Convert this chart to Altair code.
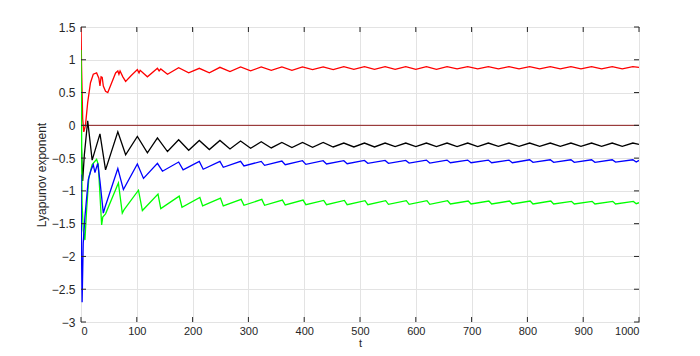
import altair as alt
import pandas as pd

# ---------------- data ----------------
black_t = [0, 3, 6, 12, 20, 34, 44, 66, 80, 101, 119, 137, 155, 175, 193, 212, 230, 249, 267, 286, 304,
           323, 341, 360, 378, 397, 415, 434, 452, 471, 489, 508, 526, 545, 563, 582, 600, 619, 637, 656,
           674, 693, 711, 730, 748, 767, 785, 804, 822, 841, 859, 878, 896, 915, 933, 952, 970, 989, 1000]
black_y = [-0.2, -0.85, -0.45, 0.07, -0.53, -0.13, -0.68, -0.10, -0.45, -0.17, -0.42, -0.19, -0.40, -0.22,
           -0.38, -0.23, -0.37, -0.23, -0.36, -0.24, -0.35, -0.25, -0.345, -0.26, -0.34, -0.26, -0.335,
           -0.26, -0.33, -0.27, -0.33, -0.27, -0.33, -0.27, -0.325, -0.27, -0.325, -0.27, -0.325, -0.27,
           -0.325, -0.27, -0.325, -0.27, -0.32, -0.27, -0.32, -0.27, -0.32, -0.27, -0.32, -0.27, -0.32,
           -0.27, -0.32, -0.27, -0.32, -0.27, -0.29]

red_t = [0, 1, 3, 5, 8, 12, 17, 22, 28, 32, 34, 36, 38, 40, 44, 48, 55, 62, 66, 68, 70, 75, 80, 90, 101,
         104, 106, 119, 137, 140, 143, 155, 175, 193, 212, 230, 249, 267, 286, 304, 323, 341, 360, 378,
         397, 415, 434, 452, 471, 489, 508, 526, 545, 563, 582, 600, 619, 637, 656, 674, 693, 711, 730,
         748, 767, 785, 804, 822, 841, 859, 878, 896, 915, 933, 952, 970, 989, 1000]
red_y = [1.5, 0.9, 0.1, -0.1, 0.0, 0.35, 0.65, 0.78, 0.80, 0.72, 0.60, 0.74, 0.73, 0.60, 0.52, 0.50,
         0.65, 0.80, 0.83, 0.78, 0.83, 0.74, 0.67, 0.76, 0.85, 0.80, 0.84, 0.74, 0.87, 0.83, 0.86, 0.78,
         0.88, 0.80, 0.87, 0.80, 0.885, 0.82, 0.89, 0.83, 0.89, 0.84, 0.89, 0.84, 0.89, 0.85, 0.89, 0.85,
         0.895, 0.855, 0.895, 0.855, 0.895, 0.855, 0.895, 0.855, 0.895, 0.855, 0.895, 0.86, 0.895, 0.86,
         0.895, 0.86, 0.895, 0.86, 0.895, 0.86, 0.895, 0.86, 0.895, 0.86, 0.895, 0.86, 0.895, 0.86,
         0.895, 0.885]

blue_t = [0, 1, 2, 4, 7, 13, 18, 22, 25, 30, 34, 40, 43, 66, 76, 101, 112, 137, 146, 175, 183, 212, 219,
          249, 255, 286, 292, 323, 329, 360, 366, 397, 403, 434, 440, 471, 477, 508, 514, 545, 551, 582,
          588, 619, 625, 656, 662, 693, 699, 730, 736, 767, 773, 804, 810, 841, 847, 878, 884, 915, 921,
          952, 958, 989, 995, 1000]
blue_y = [-0.75, -2.0, -2.7, -1.8, -1.4, -0.83, -0.68, -0.60, -0.72, -0.58, -0.85, -1.34, -1.25, -0.66,
          -0.98, -0.59, -0.81, -0.58, -0.70, -0.56, -0.68, -0.55, -0.67, -0.55, -0.64, -0.55, -0.62,
          -0.55, -0.61, -0.545, -0.60, -0.54, -0.595, -0.54, -0.59, -0.54, -0.585, -0.535, -0.58,
          -0.535, -0.58, -0.535, -0.575, -0.53, -0.575, -0.53, -0.57, -0.53, -0.57, -0.53, -0.57,
          -0.53, -0.57, -0.525, -0.565, -0.525, -0.565, -0.525, -0.565, -0.525, -0.565, -0.525, -0.56,
          -0.525, -0.56, -0.535]

green_t = [0, 1, 2, 4, 7, 10, 14, 20, 28, 31, 37, 39, 44, 67, 74, 77, 103, 110, 138, 143, 176, 181, 213,
           218, 250, 255, 287, 292, 324, 329, 361, 366, 398, 403, 435, 440, 472, 477, 509, 514, 546, 551,
           583, 588, 620, 625, 657, 662, 694, 699, 731, 736, 768, 773, 805, 810, 842, 847, 879, 884, 916,
           921, 953, 958, 990, 995, 1000]
green_y = [1.15, 0.0, -1.2, -1.6, -1.75, -1.3, -0.8, -0.6, -0.52, -0.6, -1.52, -1.40, -1.35, -0.88,
           -1.34, -1.29, -0.99, -1.30, -1.05, -1.27, -1.08, -1.25, -1.10, -1.23, -1.11, -1.23, -1.13,
           -1.22, -1.13, -1.22, -1.14, -1.215, -1.14, -1.21, -1.145, -1.21, -1.145, -1.21, -1.15, -1.21,
           -1.15, -1.205, -1.15, -1.205, -1.15, -1.205, -1.15, -1.20, -1.155, -1.20, -1.155, -1.20,
           -1.155, -1.20, -1.155, -1.20, -1.155, -1.20, -1.16, -1.20, -1.16, -1.20, -1.16, -1.20,
           -1.16, -1.195, -1.18]

x_ticks = [0, 100, 200, 300, 400, 500, 600, 700, 800, 900, 1000]
y_ticks = [-3, -2.5, -2, -1.5, -1, -0.5, 0, 0.5, 1, 1.5]

W, H = 558, 295
FONT = "Liberation Sans"
AX = "#262626"

xs = alt.Scale(domain=[0, 1000], nice=False, zero=False)
ys = alt.Scale(domain=[-3, 1.5], nice=False, zero=False)

x_axis = alt.Axis(values=x_ticks, grid=True, format="d", title="t")
y_axis = alt.Axis(values=y_ticks, grid=True, format="~g", title="Lyapunov exponent")


def series(t, y, color):
    df = pd.DataFrame({"t": t, "y": y})
    return alt.Chart(df).mark_line(color=color, strokeWidth=1.3, clip=True).encode(
        x=alt.X("t:Q", scale=xs, axis=x_axis),
        y=alt.Y("y:Q", scale=ys, axis=y_axis),
        order="t:Q",
    )


zero = alt.Chart(pd.DataFrame({"t": [0], "t2": [1000], "y": [0]})).mark_rule(
    color="#8b1a1a", strokeWidth=1
).encode(
    x=alt.X("t:Q", scale=xs, axis=x_axis),
    x2="t2:Q",
    y=alt.Y("y:Q", scale=ys, axis=y_axis),
)

xt = pd.DataFrame({"v": x_ticks})
yt = pd.DataFrame({"v": y_ticks})
tick_b = alt.Chart(xt).mark_rule(color=AX).encode(
    x=alt.X("v:Q", scale=xs, axis=x_axis), y=alt.value(H), y2=alt.value(H - 5))
tick_t = alt.Chart(xt).mark_rule(color=AX).encode(
    x=alt.X("v:Q", scale=xs, axis=x_axis), y=alt.value(0), y2=alt.value(5))
tick_l = alt.Chart(yt).mark_rule(color=AX).encode(
    y=alt.Y("v:Q", scale=ys, axis=y_axis), x=alt.value(0), x2=alt.value(5))
tick_r = alt.Chart(yt).mark_rule(color=AX).encode(
    y=alt.Y("v:Q", scale=ys, axis=y_axis), x=alt.value(W), x2=alt.value(W - 5))

chart = alt.layer(
    zero,
    series(red_t, red_y, "#ff0000"),
    series(black_t, black_y, "#000000"),
    series(green_t, green_y, "#00ff00"),
    series(blue_t, blue_y, "#0000ff"),
    tick_b, tick_t, tick_l, tick_r,
).properties(
    width=W, height=H,
    autosize=alt.AutoSizeParams(type="none"),
    padding={"left": 73, "top": 19, "right": 45, "bottom": 26},
).configure_view(
    stroke=AX, strokeWidth=1
).configure_axis(
    domain=False, ticks=False, gridColor="#e3e3e3", gridWidth=1, labelOverlap=False,
    labelFont=FONT, labelFontSize=12, labelColor=AX, labelPadding=6,
    titleFont=FONT, titleFontSize=12, titleColor=AX, titleFontWeight="normal",
).configure_axisY(titlePadding=3).configure_axisX(
    titlePadding=1, labelPadding=3, labelFontSize=11, titleFontSize=11
)

chart.save("out.html", embed_options={"renderer": "svg", "actions": False})
